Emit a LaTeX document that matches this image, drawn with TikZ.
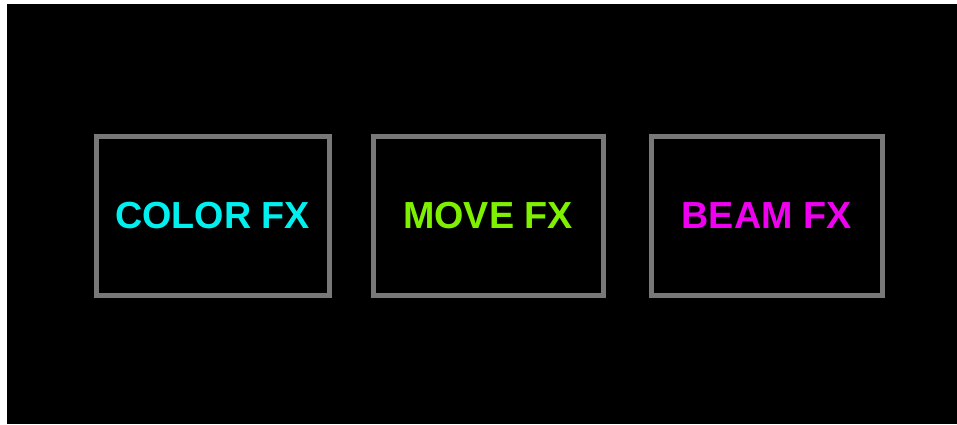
\documentclass[tikz,border=0pt]{standalone}
\usepackage{fontspec}
\setmainfont{Liberation Sans}
\definecolor{fxgray}{HTML}{787878}
\definecolor{fxcyan}{HTML}{00F0F0}
\definecolor{fxgreen}{HTML}{7FF000}
\definecolor{fxmagenta}{HTML}{F000F0}
\tikzset{
  fxbox/.style={draw=fxgray, line width=5pt, fill=black, minimum width=233pt, minimum height=159pt, inner sep=0pt, outer sep=0pt},
  fxtext/.style={font=\fontsize{37.7}{40}\selectfont\bfseries}
}
\begin{document}
\begin{tikzpicture}[x=1pt,y=-1pt]
\useasboundingbox (0,0) rectangle (957,424);
\fill[white] (0,0) rectangle (957,424);
\fill[black] (7,4) rectangle (957,424);
\node[fxbox, minimum width=233pt] (color) at (212.5,215.5) {};
\node[fxbox, minimum width=230pt] (move) at (488,215.5) {};
\node[fxbox, minimum width=231pt] (beam) at (766.5,215.5) {};
\node[fxtext, text=fxcyan] (colort) at (color.center) {COLOR FX};
\node[fxtext, text=fxgreen] (movet) at (move.center) {MOVE FX};
\node[fxtext, text=fxmagenta] (beamt) at (beam.center) {BEAM FX};
\end{tikzpicture}
\end{document}
